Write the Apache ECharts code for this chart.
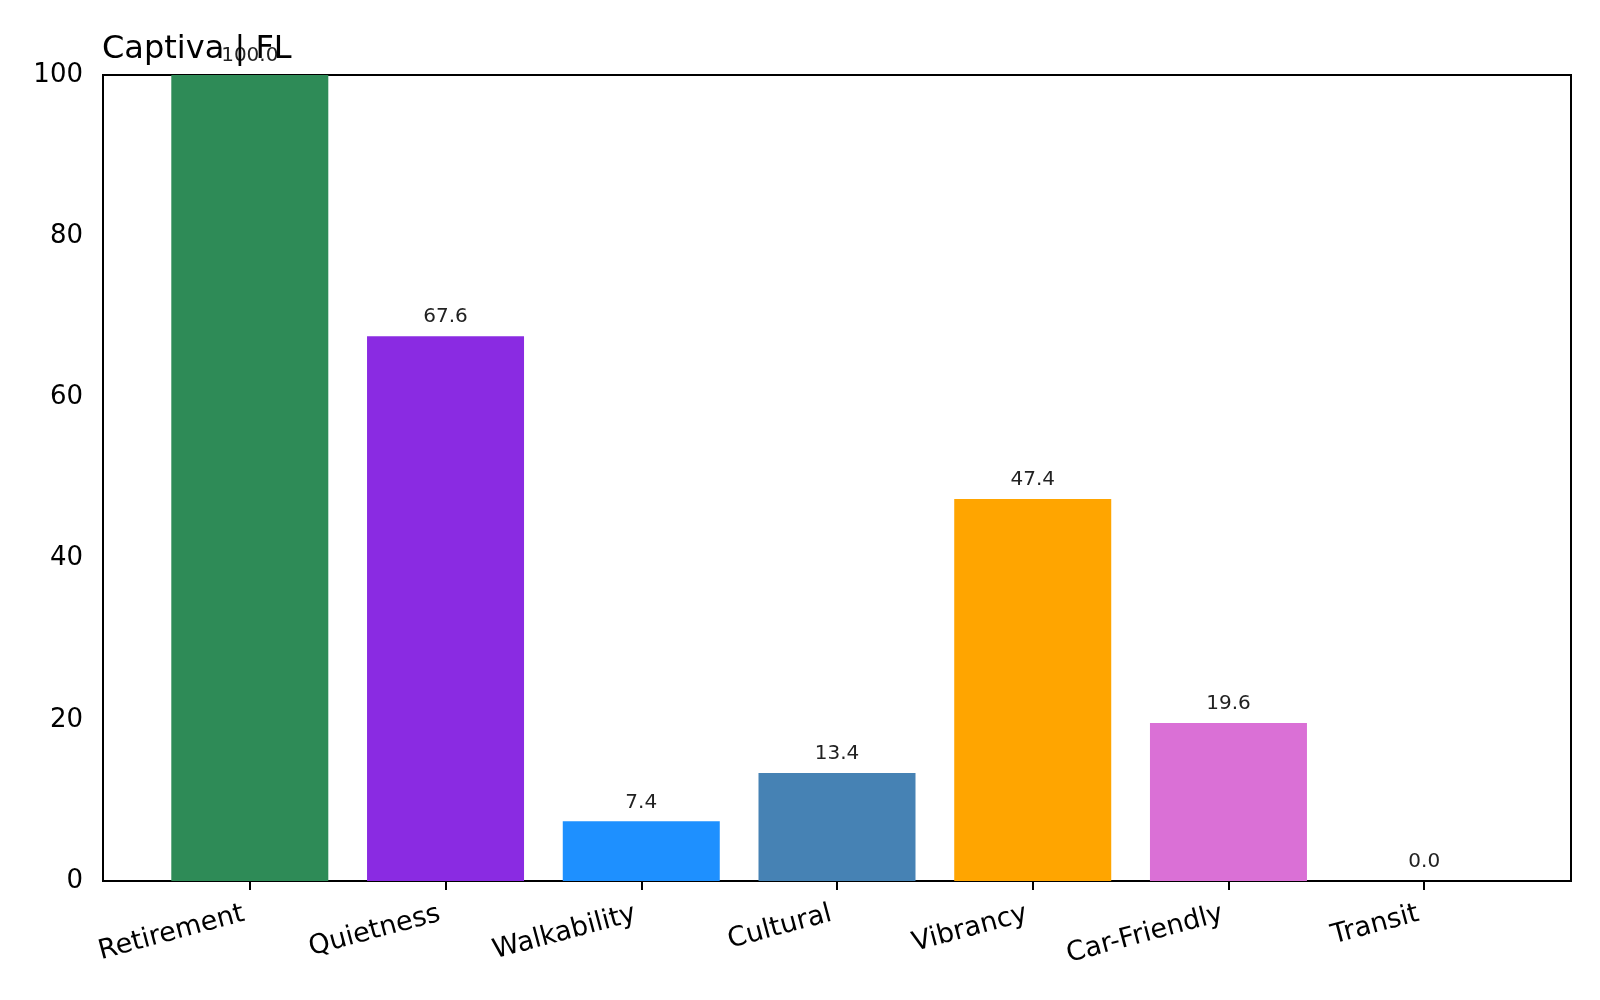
<!DOCTYPE html>
<html>
<head>
<meta charset="utf-8">
<script src="https://cdn.jsdelivr.net/npm/echarts@6/dist/echarts.min.js"></script>
<style>
  html, body { margin: 0; padding: 0; background: #fff; }
  #container { width: 1600px; height: 1000px; }
</style>
</head>
<body>
<div id="container"></div>
<script>
// 数据
var categories = ['Retirement', 'Quietness', 'Walkability', 'Cultural', 'Vibrancy', 'Car-Friendly', 'Transit'];
var scores = [100.0, 67.6, 7.4, 13.4, 47.4, 19.6, 0.0];
var barColors = ['#2E8B57', '#8A2BE2', '#1E90FF', '#4682B4', '#FFA500', '#DA70D6', '#808080'];
var yTicks = [0, 20, 40, 60, 80, 100];
var titleText = 'Captiva | FL';

var chart = echarts.init(document.getElementById('container'));

var positions = categories.map(function (c, i) { return i; });
var barData = scores.map(function (v, i) {
    return {
        value: [i, v],
        itemStyle: { color: barColors[i] }
    };
});

var font = 'DejaVu Sans';

var option = {
    backgroundColor: '#fff',
    animation: false,
    title: {
        text: titleText,
        left: 97,
        top: 29,
        textStyle: {
            color: '#000',
            fontSize: 32,
            fontWeight: 'normal',
            fontFamily: font
        }
    },
    grid: {
        left: 103,
        right: 29,
        top: 75,
        bottom: 119,
        show: true,
        borderColor: '#000',
        borderWidth: 2,
        backgroundColor: 'transparent'
    },
    xAxis: {
        type: 'value',
        min: -0.75,
        max: 6.75,
        splitLine: { show: false },
        axisLine: { show: true, lineStyle: { color: '#000', width: 2 } },
        axisTick: {
            show: true,
            customValues: positions,
            length: 9,
            lineStyle: { color: '#000', width: 2 }
        },
        axisLabel: {
            customValues: positions,
            rotate: 15,
            margin: 31,
            padding: [0, 6, 0, 0],
            color: '#000',
            fontSize: 27,
            fontFamily: font,
            formatter: function (v) {
                return categories[Math.round(v)];
            }
        }
    },
    yAxis: {
        type: 'value',
        min: 0,
        max: 100,
        splitLine: { show: false },
        axisLine: { show: true, lineStyle: { color: '#000', width: 2 } },
        axisTick: {
            show: true,
            customValues: yTicks,
            length: 9,
            lineStyle: { color: '#000', width: 2 }
        },
        axisLabel: {
            customValues: yTicks,
            margin: 20,
            color: '#000',
            fontSize: 26,
            fontFamily: font
        }
    },
    series: [{
        type: 'bar',
        barWidth: 157,
        data: barData,
        label: {
            show: true,
            position: 'top',
            distance: 9,
            color: '#222',
            fontSize: 20,
            fontFamily: font,
            formatter: function (p) {
                return p.value[1].toFixed(1);
            }
        }
    }]
};

chart.setOption(option);
</script>
</body>
</html>
